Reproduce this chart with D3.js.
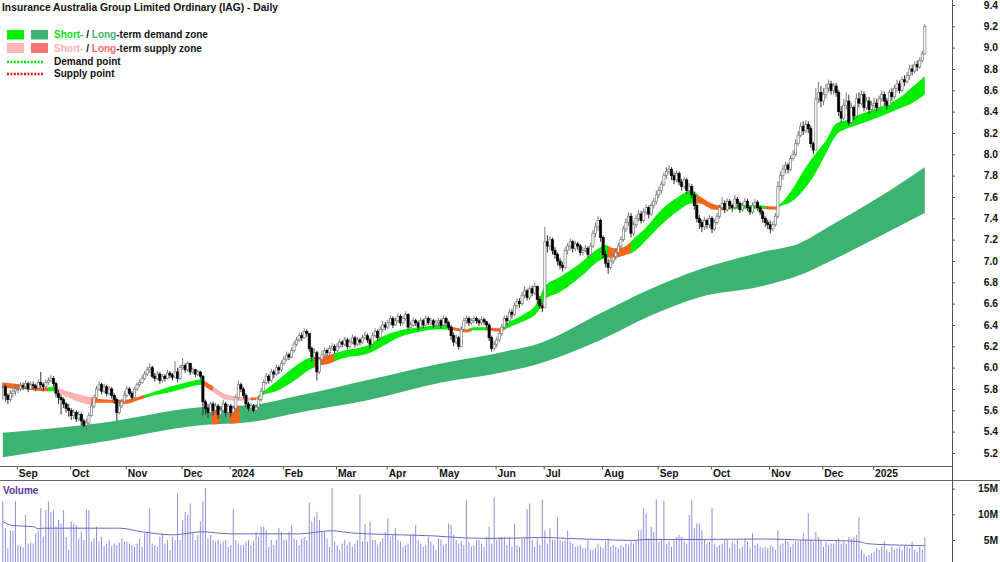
<!DOCTYPE html>
<html>
<head>
<meta charset="utf-8">
<script src="https://cdn.jsdelivr.net/npm/d3@7"></script>
<style>
  body { margin: 0; background: #fff; }
  svg { display: block; font-family: "Liberation Sans", Arial, sans-serif; }
</style>
</head>
<body>
<div id="chart"></div>
<script>
// month tick labels (first entry is the partial August 2023 with no label)
const monthLabels = ["", "Sep", "Oct", "Nov", "Dec", "2024", "Feb", "Mar", "Apr", "May", "Jun",
  "Jul", "Aug", "Sep", "Oct", "Nov", "Dec", "2025"];

// daily closes, one row per month
const closesByMonth = [
  [5.82,5.74,5.70,5.76,5.78,5.80],
  [5.80,5.83,5.82,5.85,5.80,5.84,5.83,5.81,5.86,5.84,5.82,5.86,5.88,5.90,5.85,5.76,5.72,5.70,5.66,5.62,5.60],
  [5.55,5.58,5.52,5.56,5.50,5.46,5.48,5.55,5.64,5.72,5.80,5.84,5.78,5.82,5.76,5.80,5.74,5.70,5.58,5.64,5.68,5.74],
  [5.80,5.76,5.72,5.80,5.84,5.86,5.90,5.94,5.98,6.00,5.92,5.90,5.94,5.88,5.92,5.90,5.95,5.93,5.91,5.96,5.90,6.00],
  [6.02,5.98,6.04,5.96,5.98,5.94,5.96,5.92,5.68,5.62,5.58,5.66,5.60,5.64,5.56,5.60,5.66,5.58,5.64],
  [5.58,5.62,5.72,5.84,5.80,5.74,5.66,5.62,5.64,5.60,5.63,5.70,5.78,5.86,5.92,5.88,5.96,5.94,6.00,5.98,6.04],
  [6.08,6.12,6.10,6.16,6.22,6.26,6.30,6.28,6.34,6.32,6.18,6.10,6.14,5.96,6.08,6.12,6.16,6.14,6.18,6.20,6.16],
  [6.20,6.24,6.22,6.26,6.20,6.24,6.28,6.22,6.26,6.24,6.28,6.30,6.26,6.22,6.30,6.34,6.28,6.36,6.40,6.38],
  [6.42,6.46,6.40,6.44,6.48,6.42,6.46,6.50,6.38,6.40,6.44,6.42,6.38,6.44,6.40,6.46,6.42,6.44,6.40,6.42],
  [6.44,6.40,6.46,6.42,6.38,6.30,6.24,6.28,6.20,6.36,6.44,6.46,6.42,6.44,6.46,6.44,6.42,6.45,6.43,6.40,6.28,6.18,6.22],
  [6.26,6.32,6.38,6.46,6.44,6.52,6.50,6.58,6.62,6.60,6.68,6.72,6.66,6.74,6.70,6.76,6.64,6.58,6.56],
  [7.18,7.14,7.20,7.10,7.06,7.00,6.96,6.94,7.10,7.14,7.18,7.12,7.16,7.14,7.08,7.10,7.12,7.06,7.14,7.26,7.32,7.38,7.22],
  [7.06,6.98,6.94,7.00,7.04,7.08,7.14,7.20,7.30,7.36,7.42,7.26,7.34,7.40,7.44,7.38,7.46,7.50,7.44,7.52,7.56,7.62],
  [7.66,7.72,7.80,7.84,7.86,7.80,7.76,7.82,7.74,7.70,7.76,7.66,7.70,7.62,7.52,7.40,7.36,7.32,7.38,7.34,7.40],
  [7.30,7.36,7.42,7.50,7.54,7.48,7.56,7.52,7.50,7.58,7.54,7.48,7.52,7.56,7.50,7.46,7.52,7.55,7.50,7.46,7.40,7.36,7.34],
  [7.30,7.34,7.42,7.70,7.80,7.86,7.90,7.86,7.96,8.00,8.10,8.18,8.26,8.22,8.28,8.24,8.10,8.04,8.52,8.58,8.50],
  [8.56,8.62,8.66,8.60,8.64,8.58,8.40,8.34,8.46,8.50,8.30,8.44,8.36,8.52,8.48,8.56,8.44,8.50,8.42,8.46],
  [8.48,8.44,8.52,8.56,8.50,8.46,8.58,8.54,8.62,8.66,8.60,8.70,8.68,8.74,8.80,8.78,8.84,8.82,8.88,8.94,9.20]
];

const highsByMonth = [
  [5.86,5.84,5.76,5.79,5.82,5.83],
  [5.84,5.86,5.86,5.88,5.87,5.87,5.87,5.85,5.89,5.96,5.86,5.89,5.91,5.93,5.92,5.87,5.79,5.75,5.72,5.68,5.66],
  [5.62,5.61,5.60,5.59,5.58,5.52,5.52,5.58,5.67,5.75,5.83,5.87,5.86,5.85,5.84,5.83,5.82,5.76,5.72,5.67,5.71,5.78],
  [5.83,5.82,5.78,5.82,5.86,5.89,5.93,5.97,6.01,6.04,6.02,5.95,5.97,5.96,5.94,5.94,5.98,5.97,5.95,6.06,6.00,6.03],
  [6.09,6.04,6.06,6.05,6.00,5.99,5.98,5.97,5.93,5.70,5.66,5.68,5.68,5.67,5.66,5.62,5.70,5.68,5.66],
  [5.66,5.64,5.75,5.88,5.86,5.82,5.76,5.68,5.67,5.66,5.65,5.73,5.81,5.89,5.95,5.94,5.99,5.98,6.03,6.02,6.07],
  [6.11,6.15,6.14,6.19,6.25,6.29,6.33,6.33,6.37,6.36,6.30,6.20,6.18,6.16,6.10,6.16,6.19,6.18,6.21,6.23,6.22],
  [6.23,6.27,6.26,6.29,6.28,6.27,6.31,6.30,6.29,6.28,6.31,6.34,6.32,6.28,6.33,6.37,6.36,6.39,6.44,6.43],
  [6.45,6.49,6.48,6.47,6.51,6.50,6.49,6.53,6.51,6.43,6.47,6.46,6.44,6.47,6.46,6.49,6.48,6.47,6.46,6.45],
  [6.47,6.46,6.49,6.48,6.44,6.40,6.33,6.31,6.30,6.39,6.47,6.49,6.48,6.46,6.48,6.48,6.46,6.48,6.47,6.44,6.42,6.30,6.25],
  [6.29,6.35,6.41,6.49,6.49,6.55,6.55,6.61,6.65,6.65,6.71,6.76,6.74,6.77,6.77,6.80,6.77,6.67,6.61],
  [7.32,7.24,7.23,7.22,7.13,7.08,7.03,6.99,7.13,7.17,7.21,7.20,7.19,7.18,7.16,7.13,7.15,7.14,7.17,7.29,7.36,7.42,7.40],
  [7.24,7.10,7.02,7.03,7.07,7.11,7.17,7.23,7.33,7.40,7.46,7.45,7.37,7.43,7.48,7.47,7.49,7.53,7.52,7.55,7.59,7.66],
  [7.70,7.75,7.83,7.88,7.90,7.88,7.83,7.85,7.84,7.77,7.79,7.78,7.73,7.72,7.65,7.54,7.43,7.39,7.41,7.40,7.43],
  [7.42,7.39,7.45,7.53,7.60,7.57,7.59,7.58,7.54,7.62,7.60,7.56,7.55,7.59,7.58,7.52,7.55,7.58,7.57,7.52,7.48,7.42,7.39],
  [7.38,7.37,7.45,7.75,7.84,7.90,7.93,7.92,7.99,8.04,8.14,8.22,8.30,8.31,8.32,8.31,8.27,8.12,8.62,8.68,8.64],
  [8.62,8.66,8.70,8.69,8.67,8.67,8.60,8.45,8.52,8.58,8.56,8.48,8.46,8.57,8.58,8.60,8.59,8.54,8.54,8.50],
  [8.53,8.52,8.55,8.60,8.59,8.53,8.61,8.62,8.65,8.70,8.69,8.73,8.74,8.77,8.84,8.84,8.87,8.88,8.91,8.97,9.22]
];

const lowsByMonth = [
  [5.70,5.68,5.66,5.68,5.72,5.74],
  [5.76,5.78,5.79,5.80,5.77,5.79,5.80,5.78,5.80,5.81,5.78,5.80,5.84,5.86,5.82,5.72,5.66,5.56,5.62,5.58,5.54],
  [5.51,5.52,5.49,5.50,5.46,5.44,5.40,5.46,5.54,5.62,5.70,5.78,5.75,5.76,5.73,5.74,5.71,5.66,5.50,5.56,5.62,5.66],
  [5.72,5.74,5.70,5.70,5.78,5.82,5.85,5.88,5.92,5.95,5.90,5.87,5.88,5.85,5.86,5.87,5.89,5.90,5.88,5.90,5.86,5.88],
  [5.98,5.95,5.96,5.93,5.94,5.91,5.92,5.89,5.55,5.56,5.53,5.56,5.55,5.57,5.52,5.53,5.58,5.54,5.55],
  [5.54,5.56,5.60,5.70,5.77,5.71,5.63,5.59,5.60,5.58,5.58,5.61,5.68,5.76,5.84,5.85,5.86,5.90,5.92,5.94,5.96],
  [6.02,6.06,6.07,6.09,6.14,6.20,6.24,6.25,6.27,6.29,6.15,6.06,6.06,5.88,5.94,6.05,6.10,6.11,6.12,6.16,6.13],
  [6.14,6.18,6.19,6.20,6.17,6.18,6.22,6.19,6.20,6.21,6.22,6.26,6.23,6.18,6.21,6.28,6.25,6.27,6.33,6.35],
  [6.36,6.40,6.37,6.39,6.42,6.39,6.40,6.44,6.35,6.36,6.38,6.39,6.35,6.37,6.37,6.39,6.40,6.40,6.37,6.38],
  [6.38,6.37,6.39,6.39,6.35,6.26,6.20,6.22,6.17,6.19,6.34,6.41,6.39,6.40,6.42,6.41,6.39,6.40,6.40,6.37,6.25,6.15,6.16],
  [6.19,6.24,6.30,6.36,6.40,6.42,6.46,6.48,6.55,6.56,6.58,6.65,6.63,6.64,6.67,6.68,6.60,6.55,6.52],
  [6.80,7.08,7.10,7.06,7.02,6.96,6.92,6.90,6.92,7.06,7.10,7.08,7.09,7.10,7.05,7.05,7.08,7.03,7.04,7.12,7.22,7.28,7.18],
  [7.02,6.94,6.88,6.92,6.97,7.01,7.06,7.12,7.18,7.27,7.33,7.22,7.24,7.31,7.37,7.35,7.36,7.43,7.40,7.42,7.49,7.53],
  [7.59,7.63,7.70,7.77,7.81,7.76,7.72,7.74,7.71,7.66,7.68,7.63,7.64,7.59,7.48,7.36,7.30,7.27,7.29,7.30,7.31],
  [7.26,7.28,7.34,7.40,7.47,7.45,7.46,7.49,7.46,7.48,7.51,7.45,7.46,7.50,7.47,7.43,7.44,7.50,7.47,7.43,7.36,7.32,7.30],
  [7.26,7.28,7.32,7.40,7.66,7.76,7.82,7.82,7.84,7.94,7.98,8.08,8.16,8.18,8.20,8.20,8.06,8.00,8.36,8.48,8.44],
  [8.46,8.52,8.58,8.56,8.56,8.54,8.36,8.30,8.32,8.42,8.27,8.28,8.32,8.34,8.44,8.46,8.40,8.42,8.38,8.39],
  [8.40,8.40,8.42,8.49,8.46,8.42,8.44,8.50,8.52,8.58,8.57,8.58,8.64,8.66,8.70,8.74,8.76,8.78,8.80,8.86,8.94]
];

// daily volume, millions of shares
const volumes = [
  12.5,7.3,3.4,6.9,6.8,12.5,4.0,3.8,3.6,9.9, 4.3,4.5,4.3,6.3,6.9,11.2,5.6,10.8,12.5,10.5,
  10.8,7.6,8.9,8.2,10.8,5.6,3.1,8.6,8.2,7.9, 5.3,6.6,5.0,11.0,10.8,4.7,5.3,7.6,4.7,5.6,
  3.8,4.3,5.0,3.8,4.3,4.0,4.5,5.3,4.7,4.7, 4.3,4.0,3.7,4.3,5.3,3.7,6.3,6.6,11.2,4.3,
  4.0,3.7,5.6,6.3,4.3,5.0,3.1,5.6,5.0,14.1, 5.0,8.9,10.5,9.9,12.1,6.3,5.0,6.0,8.6,12.5,
  15.1,5.3,6.0,5.0,4.7,5.0,4.3,4.7,5.0,3.7, 4.0,11.0,5.0,4.3,4.0,4.0,4.7,5.0,4.0,4.7,
  6.6,5.6,7.6,7.6,6.9,3.7,5.0,4.0,5.0,7.3, 6.6,5.0,5.0,6.6,7.9,5.3,5.0,4.0,5.3,5.6,
  5.0,12.3,8.6,9.5,10.5,8.9,6.6,6.6,5.3,3.7, 15.1,4.7,4.0,3.1,4.3,5.0,4.0,4.7,3.7,4.3,
  5.0,13.8,4.7,8.2,4.7,8.6,5.0,5.0,4.0,4.7, 5.3,6.6,9.2,5.6,6.0,7.3,5.0,4.7,3.7,4.0,
  4.3,6.0,6.3,7.9,5.0,4.3,3.7,4.0,5.6,4.7, 4.0,3.1,5.3,5.0,4.0,4.3,8.2,7.9,6.0,5.0,
  4.3,4.7,4.0,12.8,4.7,3.7,4.0,5.0,5.0,4.3, 3.7,5.6,7.6,4.3,13.3,5.0,5.6,
  5.6,5.6,4.0,5.6,3.7,8.2,4.0,3.7,5.3,5.3, 11.0,12.1,5.0,3.7,5.3,4.0,12.9,6.9,4.3,7.3,
  5.0,5.0,9.4,5.0,4.7,5.0,6.8,4.7,4.3,3.7, 3.7,4.0,3.4,3.4,5.0,3.2,3.1,3.4,4.3,3.7,
  3.4,4.7,5.3,3.7,4.0,3.7,3.4,4.0,3.7,4.3, 4.0,4.7,4.3,5.0,6.9,6.9,11.2,10.2,5.3,7.6,
  6.6,12.9,4.7,5.0,12.6,4.3,4.7,3.7,5.0,5.6, 6.0,5.6,4.7,4.3,9.9,12.8,7.3,8.2,
  8.2,6.9,5.0,4.3,4.7,11.2,4.3,3.7,4.0,4.3, 5.0,5.0,3.4,4.7,4.3,5.0,3.4,3.7,5.3,4.7,
  3.4,6.3,4.0,4.3,3.7,3.4,3.7,3.4,4.0,3.7, 3.1,6.9,4.0,4.3,5.0,4.7,3.7,4.3,4.7,4.7,
  5.0,6.3,5.0,10.2,5.0,4.7,6.6,5.6,5.0,3.7, 4.7,4.0,4.3,4.3,5.0,5.3,4.3,4.7,4.3,5.6,
  5.3,5.6,6.0,9.5,3.1,2.4,1.8,2.1,2.4,2.7, 3.4,3.1,3.7,4.7,3.1,2.7,3.7,3.1,3.4,3.7,
  3.1,4.0,3.7,3.4,4.7,3.1,2.7,3.7,3.1,5.5
];

// volume moving average, read at knots (day index, millions)
const volAvgDay = [0,4,12,14,16,46,55,67,79,86,91,117,130,137,144,157,170,183,196,213,223,236,249,253,275,302,315,328,338,341,348,354,364];
const volAvg = [8.6,7.8,7.6,7.2,7.3,7.3,6.6,6.0,6.6,6.3,6.2,6.2,6.8,6.4,6.2,6.0,5.8,5.4,5.3,5.5,5.3,5.1,4.9,5.1,5.1,5.2,5.0,4.9,4.7,4.3,4.1,4.0,3.9];

// short-term zone edges (day index, upper, lower)
const shortDay = [0,8,16,20,24,30,35,37,42,48,54,58,66,74,78,82,88,92,96,100,101,109,117,121,125,129,133,145,149,157,165,173,178,183,186,190,196,200,205,211,214,220,228,236,238,241,245,250,253,260,266,272,275,281,284,290,299,305,306,311,317,321,325,329,333,338,346,354,359,364];
const shortHi = [5.86,5.84,5.81,5.82,5.79,5.75,5.72,5.71,5.70,5.70,5.73,5.76,5.82,5.87,5.89,5.84,5.75,5.73,5.72,5.72,5.74,5.89,6.04,6.09,6.10,6.12,6.15,6.22,6.28,6.35,6.38,6.40,6.38,6.36,6.38,6.38,6.37,6.43,6.49,6.61,6.76,6.85,6.98,7.13,7.15,7.12,7.13,7.23,7.29,7.48,7.59,7.66,7.61,7.53,7.52,7.52,7.52,7.51,7.52,7.65,7.88,8.01,8.13,8.29,8.32,8.37,8.44,8.53,8.63,8.73];
const shortLo = [5.81,5.80,5.78,5.78,5.74,5.68,5.65,5.67,5.67,5.66,5.70,5.73,5.77,5.82,5.84,5.79,5.70,5.69,5.69,5.70,5.72,5.79,5.91,5.98,6.02,6.04,6.08,6.14,6.19,6.29,6.34,6.36,6.35,6.33,6.35,6.35,6.34,6.38,6.43,6.52,6.64,6.71,6.85,7.01,7.03,7.03,7.05,7.10,7.17,7.34,7.46,7.54,7.54,7.48,7.48,7.49,7.49,7.48,7.50,7.55,7.69,7.83,8.01,8.18,8.24,8.28,8.35,8.43,8.48,8.56];

// how each stretch of the short-term zone is coloured
const shortZoneFrom = [0,18,21,35,56,79,83,98,101,123,131,176,185,191,198,239,248,274,287,301,306];
const shortZoneTo   = [18,21,35,56,79,83,98,101,123,131,176,185,191,198,239,248,274,287,301,306,364];
const shortZoneKind = ["o","g","p","o","g","o","p","o","g","o","g","o","g","o","g","o","g","o","g","o","g"];

// long-term zone edges
const longDay = [0,38,78,98,117,145,173,198,212,236,255,275,299,315,326,346,364];
const longHi = [5.39,5.48,5.63,5.65,5.74,5.89,6.04,6.15,6.23,6.51,6.73,6.92,7.08,7.17,7.32,7.60,7.88];
const longLo = [5.16,5.30,5.46,5.49,5.58,5.70,5.86,5.96,6.04,6.26,6.48,6.66,6.76,6.87,6.99,7.23,7.45];
const longOrangeFrom = [82.5, 89.5];
const longOrangeTo = [85.5, 93.5];

const priceTicks = d3.range(26, 48).map(d => d / 5);   // 5.2 .. 9.4
const volumeTicks = [5, 10, 15];

// ---------------------------------------------------------------
const closes = closesByMonth.flat();
const highs = highsByMonth.flat();
const lows = lowsByMonth.flat();
const monthStart = [];
closesByMonth.reduce((acc, m) => { monthStart.push(acc); return acc + m.length; }, 0);

const width = 1000, height = 562;
const axisX = 952;
const dateTop = 466, dateBottom = 480;

const zoneColour = { g: "#00ee00", p: "#ffb4b4", o: "#f5661c" };
const longGreen = "#3cb371";

const svg = d3.select("#chart").append("svg")
  .attr("width", width)
  .attr("height", height)
  .attr("viewBox", [0, 0, width, height]);

svg.append("rect").attr("width", width).attr("height", height).attr("fill", "#fff");

// Scales
const x = d3.scaleLinear().domain([0, closes.length - 1]).range([2.8, 924.8]);
const y = d3.scaleLinear().domain([5.2, 9.4]).range([453, 5]);
const vy = d3.scaleLinear().domain([0, 15]).range([565.7, 488.6]);

const defs = svg.append("defs");
defs.append("clipPath").attr("id", "price-clip")
  .append("rect").attr("x", 0).attr("y", 0).attr("width", axisX).attr("height", dateTop);
defs.append("clipPath").attr("id", "vol-clip")
  .append("rect").attr("x", 0).attr("y", dateBottom + 1).attr("width", axisX).attr("height", height - dateBottom);

const price = svg.append("g").attr("clip-path", "url(#price-clip)");

// Zones
const band = d3.area()
  .x(d => x(d.i))
  .y0(d => y(d.lo))
  .y1(d => y(d.hi))
  .curve(d3.curveMonotoneX);

const longData = longDay.map((i, k) => ({ i, hi: longHi[k], lo: longLo[k] }));
const shortData = shortDay.map((i, k) => ({ i, hi: shortHi[k], lo: shortLo[k] }));

price.append("path").attr("d", band(longData)).attr("fill", longGreen);

longOrangeFrom.forEach((from, k) => {
  const id = "long-o-" + k;
  defs.append("clipPath").attr("id", id).append("rect")
    .attr("x", x(from)).attr("y", 0)
    .attr("width", x(longOrangeTo[k]) - x(from)).attr("height", dateTop);
  price.append("path").attr("d", band(longData))
    .attr("fill", zoneColour.o).attr("clip-path", `url(#${id})`);
});

shortZoneFrom.forEach((from, k) => {
  const id = "short-z-" + k;
  const x0 = x(from) - 0.3;
  const x1 = k === shortZoneFrom.length - 1 ? x(shortZoneTo[k]) + 3 : x(shortZoneTo[k]) + 0.3;
  defs.append("clipPath").attr("id", id).append("rect")
    .attr("x", x0).attr("y", 0).attr("width", x1 - x0).attr("height", dateTop);
  price.append("path").attr("d", band(shortData))
    .attr("fill", zoneColour[shortZoneKind[k]])
    .attr("clip-path", `url(#${id})`);
});

// Candles
const candles = closes.map((c, i) => {
  const o = i ? closes[i - 1] : c;
  return { i, o, c, h: Math.max(highs[i], o, c), l: Math.min(lows[i], o, c) };
});

const cg = price.append("g");
cg.selectAll("line")
  .data(candles)
  .join("line")
  .attr("x1", d => x(d.i)).attr("x2", d => x(d.i))
  .attr("y1", d => y(d.h)).attr("y2", d => y(d.l))
  .attr("stroke", d => d.c >= d.o ? "#7a7a7a" : "#333")
  .attr("stroke-width", 1);

cg.selectAll("rect")
  .data(candles)
  .join("rect")
  .attr("x", d => x(d.i) - 1.1)
  .attr("width", 2.2)
  .attr("y", d => y(Math.max(d.o, d.c)))
  .attr("height", d => Math.max(0.8, Math.abs(y(d.o) - y(d.c))))
  .attr("fill", d => d.c >= d.o ? "#fff" : "#000")
  .attr("stroke", d => d.c >= d.o ? "#7a7a7a" : "#000")
  .attr("stroke-width", 0.7);

// Volume
const vol = svg.append("g").attr("clip-path", "url(#vol-clip)");
vol.selectAll("line")
  .data(volumes)
  .join("line")
  .attr("x1", (d, i) => x(i)).attr("x2", (d, i) => x(i))
  .attr("y1", vy(0)).attr("y2", d => vy(d))
  .attr("stroke", "#8f8fda")
  .attr("stroke-width", 1);

vol.append("path")
  .datum(volAvgDay.map((i, k) => [i, volAvg[k]]))
  .attr("fill", "none")
  .attr("stroke", "#6a6ac6")
  .attr("stroke-width", 1)
  .attr("d", d3.line().x(d => x(d[0])).y(d => vy(d[1])).curve(d3.curveMonotoneX));

// Axes
const axisFont = g => g.selectAll("text")
  .attr("font-family", "Liberation Sans, Arial, sans-serif")
  .attr("font-weight", "bold")
  .attr("font-size", 10.3)
  .attr("fill", "#111");

svg.append("g")
  .attr("transform", `translate(${axisX},0)`)
  .call(d3.axisRight(y).tickValues(priceTicks).tickSize(3).tickFormat(d3.format(".1f")))
  .call(g => g.select(".domain").remove())
  .call(g => g.selectAll(".tick line").attr("stroke", "#555"))
  .call(g => g.selectAll("text").attr("x", 46).attr("text-anchor", "end"))
  .call(axisFont);

svg.append("g")
  .attr("transform", `translate(${axisX},0)`)
  .call(d3.axisRight(vy).tickValues(volumeTicks).tickSize(3).tickFormat(d => d + "M"))
  .call(g => g.select(".domain").remove())
  .call(g => g.selectAll(".tick line").attr("stroke", "#555"))
  .call(g => g.selectAll("text").attr("x", 46).attr("text-anchor", "end"))
  .call(axisFont);

// date strip
svg.append("line").attr("x1", 0).attr("x2", axisX).attr("y1", dateTop + 0.5).attr("y2", dateTop + 0.5)
  .attr("stroke", "#666");
svg.append("line").attr("x1", 0).attr("x2", width).attr("y1", dateBottom + 0.5).attr("y2", dateBottom + 0.5)
  .attr("stroke", "#666");
svg.append("line").attr("x1", axisX + 0.5).attr("x2", axisX + 0.5).attr("y1", 0).attr("y2", height)
  .attr("stroke", "#555");

const tickIdx = monthStart.slice(1).map(s => s - 0.45);
svg.append("g")
  .attr("transform", `translate(0,${dateTop + 0.5})`)
  .call(d3.axisBottom(x).tickValues(tickIdx).tickSize(3).tickFormat((d, k) => monthLabels[k + 1]))
  .call(g => g.select(".domain").remove())
  .call(g => g.selectAll(".tick line").attr("stroke", "#555"))
  .call(g => g.selectAll("text").attr("x", 1.5).attr("y", 3).attr("dy", "0.71em").attr("text-anchor", "start"))
  .call(axisFont);

// Title and legend
svg.append("text")
  .attr("x", 2).attr("y", 11)
  .attr("font-size", 10.3).attr("font-weight", "bold").attr("fill", "#111")
  .text("Insurance Australia Group Limited Ordinary (IAG) - Daily");

svg.append("text")
  .attr("x", 3).attr("y", 493.5)
  .attr("font-size", 10).attr("font-weight", "bold").attr("fill", "#60329a")
  .text("Volume");

const legend = svg.append("g").attr("font-size", 10).attr("font-weight", "bold");
legend.append("rect").attr("x", 7).attr("y", 30).attr("width", 17).attr("height", 9.5).attr("fill", zoneColour.g);
legend.append("rect").attr("x", 31).attr("y", 30).attr("width", 17).attr("height", 9.5).attr("fill", longGreen);
legend.append("rect").attr("x", 7).attr("y", 43).attr("width", 17).attr("height", 10).attr("fill", "#ffb4b4");
legend.append("rect").attr("x", 31).attr("y", 43).attr("width", 17).attr("height", 10).attr("fill", "#ff7373");

const row1 = legend.append("text").attr("x", 54).attr("y", 38);
row1.append("tspan").attr("fill", "#11dd11").text("Short-");
row1.append("tspan").attr("fill", "#111").text(" / ");
row1.append("tspan").attr("fill", longGreen).text("Long");
row1.append("tspan").attr("fill", "#111").text("-term demand zone");

const row2 = legend.append("text").attr("x", 54).attr("y", 51.5);
row2.append("tspan").attr("fill", "#ffb0b0").text("Short-");
row2.append("tspan").attr("fill", "#111").text(" / ");
row2.append("tspan").attr("fill", "#ff6b6b").text("Long");
row2.append("tspan").attr("fill", "#111").text("-term supply zone");

legend.append("line").attr("x1", 7).attr("x2", 44).attr("y1", 62).attr("y2", 62)
  .attr("stroke", "#11dd11").attr("stroke-width", 2.5).attr("stroke-dasharray", "2,1.4");
legend.append("line").attr("x1", 7).attr("x2", 44).attr("y1", 74).attr("y2", 74)
  .attr("stroke", "#ee1111").attr("stroke-width", 2.5).attr("stroke-dasharray", "2,1.4");
legend.append("text").attr("x", 54).attr("y", 65).attr("fill", "#111").text("Demand point");
legend.append("text").attr("x", 54).attr("y", 77).attr("fill", "#111").text("Supply point");
</script>
</body>
</html>
